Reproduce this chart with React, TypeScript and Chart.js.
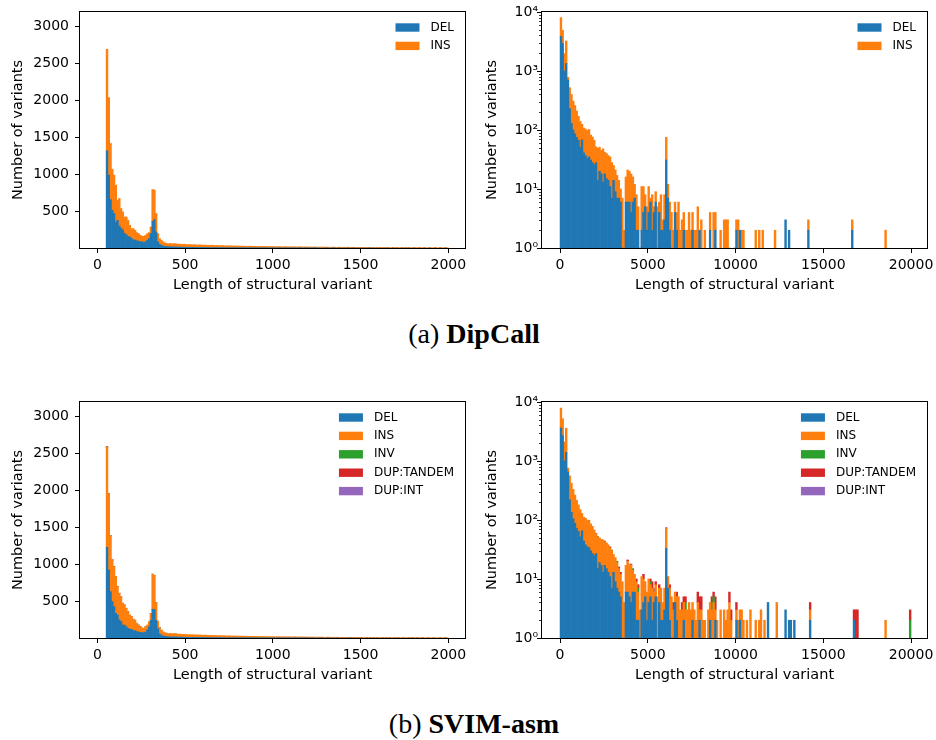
import React, { useEffect, useRef } from "react";
import { Chart, registerables } from "chart.js";

Chart.register(...registerables);
Chart.defaults.font.family = "DejaVu Sans";

// ---------- bins ----------
const linBinStart = 50; // first bin edge of the linear histograms
const linBinWidth = 10;
const logBinStart = 0;
const logBinWidth = 100;

// ---------- labels / ticks ----------
const xTitle = "Length of structural variant";
const yTitle = "Number of variants";
const linXTicks = [0, 500, 1000, 1500, 2000];
const logXTicks = [0, 5000, 10000, 15000, 20000];
const linYTicks = [500, 1000, 1500, 2000, 2500, 3000];
const logYTicks = [1, 10, 100, 1000, 10000];
const logYTickLabels = ["10⁰", "10¹", "10²", "10³", "10⁴"];
const typeLabels = ["DEL", "INS", "INV", "DUP:TANDEM", "DUP:INT"];
const typeColors = ["#1f77b4", "#ff7f0e", "#2ca02c", "#d62728", "#9467bd"];

// ---------- (a) DipCall, linear, bins of 10 from 50 ----------
const dipcallLinDel = [
  1318, 988, 657, 512, 467, 350, 376, 300, 270, 245,
  200, 180, 155, 150, 130, 110, 108, 98, 94, 84,
  84, 75, 84, 105, 127, 196, 362, 385, 217, 84,
  50, 36, 27, 22, 22, 18, 16, 15, 14, 15,
  12, 13, 11, 12, 10, 10, 9, 10, 8, 9,
  8, 7, 8, 7, 7, 6, 7, 6, 5, 6,
  5, 6, 5, 4, 5, 4, 5, 4, 4, 3,
  4, 4, 3, 4, 3, 3, 4, 3, 3, 2,
  3, 3, 2, 3, 2, 2, 3, 2, 2, 3,
  2, 2, 2, 1, 2, 2, 2, 1, 2, 2,
  1, 2, 1, 2, 1, 1, 2, 1, 1, 2,
  1, 1, 1, 2, 1, 1, 1, 1, 2, 1,
  1, 1, 0, 1, 1, 1, 1, 0, 1, 1,
  1, 0, 1, 1, 0, 1, 0, 1, 1, 0,
  1, 1, 0, 1, 0, 1, 0, 1, 0, 1,
  1, 0, 1, 0, 1, 0, 1, 0, 1, 0,
  1, 0, 0, 1, 0, 1, 0, 0, 1, 0,
  1, 0, 1, 0, 0, 1, 0, 0, 1, 0,
  0, 1, 0, 0, 1, 0, 0, 1, 0, 0,
  1, 0, 0, 1, 0,
];
const dipcallLinIns = [
  1377, 1050, 761, 557, 521, 502, 272, 371, 265, 245,
  221, 241, 221, 158, 133, 153, 133, 111, 102, 89,
  75, 84, 89, 91, 82, 89, 431, 401, 250, 112,
  77, 69, 57, 48, 39, 40, 46, 40, 43, 45,
  40, 41, 39, 37, 41, 37, 36, 38, 36, 33,
  38, 33, 33, 36, 32, 32, 33, 30, 32, 29,
  33, 28, 28, 31, 27, 27, 28, 26, 25, 28,
  24, 26, 24, 24, 23, 24, 21, 23, 21, 23,
  20, 21, 23, 19, 21, 20, 18, 21, 18, 18,
  20, 17, 18, 17, 17, 18, 16, 16, 17, 16,
  15, 15, 17, 13, 15, 15, 13, 16, 13, 13,
  15, 12, 13, 13, 12, 13, 12, 11, 12, 12,
  10, 11, 13, 10, 11, 10, 11, 10, 10, 11,
  9, 9, 10, 9, 9, 9, 9, 10, 7, 9,
  9, 7, 9, 7, 9, 7, 9, 6, 8, 8,
  6, 8, 6, 8, 5, 7, 7, 6, 6, 7,
  5, 8, 6, 6, 6, 5, 7, 5, 5, 7,
  4, 6, 5, 5, 6, 5, 5, 5, 4, 5,
  5, 5, 3, 5, 4, 4, 4, 5, 3, 3,
  5, 3, 4, 3, 3,
];

// ---------- (a) DipCall, log, bins of 100 from 0 ----------
const dipcallLogDel = [
  3870, 2910, 1000, 1340, 700, 230, 130, 100, 86, 75,
  67, 51, 68, 41, 37, 33, 35, 31, 28, 26,
  28, 14, 20, 18, 13, 18, 15, 14, 11, 7,
  14, 9, 7, 7, 6, 1, 0, 6, 6, 6,
  4, 6, 7, 2, 2, 1, 2, 4, 5, 2,
  4, 6, 2, 4, 6, 1, 4, 2, 2, 3,
  31, 7, 2, 1, 0, 4, 2, 0, 0, 0,
  2, 0, 0, 0, 0, 2, 0, 0, 0, 2,
  0, 0, 0, 0, 0, 2, 0, 0, 2, 0,
  0, 0, 0, 0, 0, 0, 0, 0, 0, 1,
  2, 0, 2, 0, 0, 0, 0, 0, 0, 0,
  0, 0, 0, 0, 0, 0, 0, 0, 0, 0,
  0, 0, 0, 0, 0, 0, 0, 0, 3, 0,
  2, 0, 0, 0, 0, 0, 0, 0, 0, 0,
  0, 2, 0, 0, 0, 0, 0, 0, 0, 0,
  0, 0, 0, 0, 0, 0, 0, 0, 0, 0,
  0, 0, 0, 0, 0, 0, 2, 0, 0, 0,
  0, 0, 0, 0, 0, 0, 0, 0, 0, 0,
  0, 0, 0, 0, 0, 0, 0, 0, 0, 0,
  0, 0, 0, 0, 0, 0, 0, 0, 0, 0,
];
const dipcallLogIns = [
  4170, 1990, 970, 1890, 80, 290, 270, 210, 174, 135,
  103, 89, 57, 67, 67, 65, 67, 51, 48, 41,
  24, 35, 31, 27, 35, 24, 25, 23, 24, 21,
  11, 12, 10, 7, 4, 6, 2, 10, 15, 14,
  14, 10, 5, 6, 3, 0, 9, 7, 3, 3,
  7, 1, 6, 1, 3, 4, 2, 6, 1, 5,
  44, 5, 4, 3, 2, 2, 2, 6, 2, 3,
  2, 2, 2, 4, 2, 2, 2, 2, 5, 0,
  3, 0, 2, 0, 0, 2, 0, 4, 2, 1,
  0, 2, 0, 3, 3, 3, 1, 0, 0, 0,
  1, 3, 0, 2, 2, 0, 0, 0, 0, 0,
  0, 2, 0, 2, 0, 2, 0, 0, 0, 0,
  0, 0, 2, 0, 0, 0, 0, 0, 0, 0,
  0, 0, 0, 0, 0, 0, 0, 0, 0, 0,
  0, 1, 0, 0, 0, 0, 0, 0, 0, 0,
  0, 0, 0, 0, 0, 0, 0, 0, 0, 0,
  0, 0, 0, 0, 0, 0, 1, 0, 0, 0,
  0, 0, 0, 0, 0, 0, 0, 0, 0, 0,
  0, 0, 0, 0, 0, 2, 0, 0, 0, 0,
  0, 0, 0, 0, 0, 0, 0, 0, 0, 0,
];

// ---------- (b) SVIM-asm, linear, bins of 10 from 50 ----------
const svimLinDel = [
  1230, 923, 629, 493, 425, 335, 312, 244, 222, 176,
  176, 154, 131, 118, 118, 100, 100, 86, 81, 77,
  72, 70, 80, 110, 150, 240, 390, 385, 240, 125,
  55, 38, 28, 23, 21, 17, 16, 14, 15, 13,
  13, 12, 12, 11, 10, 10, 9, 9, 8, 9,
  7, 8, 7, 7, 6, 7, 6, 6, 5, 6,
  5, 5, 5, 4, 5, 4, 4, 5, 3, 4,
  4, 3, 4, 3, 3, 3, 3, 3, 2, 3,
  3, 2, 3, 2, 2, 3, 2, 2, 2, 2,
  2, 1, 2, 2, 1, 2, 1, 2, 2, 1,
  1, 2, 1, 1, 2, 1, 1, 2, 1, 1,
  1, 1, 2, 1, 1, 1, 1, 1, 1, 0,
  1, 1, 1, 1, 0, 1, 1, 1, 0, 1,
  0, 1, 1, 0, 1, 0, 1, 0, 1, 1,
  0, 1, 0, 1, 0, 1, 0, 0, 1, 0,
  1, 0, 1, 0, 1, 0, 0, 1, 0, 1,
  0, 1, 0, 0, 1, 0, 1, 0, 0, 1,
  0, 0, 1, 0, 1, 0, 0, 1, 0, 0,
  1, 0, 0, 1, 0, 0, 1, 0, 0, 0,
  1, 0, 0, 1, 0,
];
const svimLinIns = [
  1357, 1031, 755, 565, 543, 497, 384, 362, 339, 294,
  272, 249, 226, 194, 172, 153, 144, 113, 95, 77,
  68, 60, 70, 66, 72, 90, 480, 465, 240, 105,
  80, 67, 58, 49, 42, 42, 44, 41, 45, 40,
  42, 39, 41, 38, 40, 38, 36, 37, 35, 36,
  34, 35, 33, 34, 32, 31, 33, 30, 31, 29,
  30, 28, 29, 27, 28, 27, 26, 27, 25, 26,
  24, 25, 24, 23, 24, 22, 23, 22, 21, 22,
  20, 21, 20, 21, 19, 19, 20, 18, 19, 18,
  17, 18, 17, 16, 17, 17, 16, 15, 16, 15,
  16, 14, 15, 14, 15, 14, 13, 14, 13, 14,
  12, 13, 12, 13, 12, 12, 11, 12, 11, 12,
  10, 11, 10, 11, 10, 10, 11, 9, 10, 9,
  10, 9, 9, 8, 9, 9, 8, 9, 8, 8,
  9, 7, 8, 7, 8, 8, 7, 7, 8, 6,
  7, 7, 6, 7, 6, 7, 6, 6, 5, 6,
  6, 5, 6, 5, 5, 6, 5, 5, 6, 4,
  5, 5, 4, 5, 5, 4, 5, 4, 4, 5,
  4, 4, 3, 4, 4, 4, 3, 4, 3, 3,
  4, 3, 4, 3, 3,
];
const svimLinInv = [
  2, 1, 1, 0, 1, 0, 1, 0, 0, 1,
  0, 1, 0, 0, 0, 1, 0, 0, 1, 0,
  0, 0, 1, 0, 0, 0, 0, 1, 0, 0,
  1, 0, 0, 0, 1, 0, 0, 0, 0, 1,
];
const svimLinDupTandem = [
  3, 2, 2, 1, 1, 2, 1, 1, 0, 1,
  1, 0, 1, 0, 1, 0, 0, 1, 0, 1,
  0, 0, 1, 0, 0, 1, 0, 0, 1, 0,
  2, 1, 0, 0, 1, 0, 1, 0, 0, 1,
];
const svimLinDupInt = [
  1, 0, 0, 1, 0, 0, 0, 0, 1, 0,
  0, 0, 0, 0, 0, 1, 0, 0, 0, 0,
];

// ---------- (b) SVIM-asm, log, bins of 100 from 0 ----------
const svimLogDel = [
  3630, 2700, 1000, 1400, 650, 220, 135, 105, 88, 72,
  64, 52, 66, 44, 38, 35, 34, 30, 27, 25,
  27, 15, 19, 17, 13, 17, 15, 13, 11, 7,
  13, 9, 7, 6, 5, 1, 0, 6, 6, 5,
  4, 6, 6, 2, 2, 1, 3, 4, 5, 2,
  4, 5, 2, 4, 5, 1, 4, 2, 2, 3,
  33, 7, 2, 1, 0, 4, 2, 0, 0, 0,
  2, 0, 0, 0, 0, 2, 0, 0, 0, 2,
  0, 0, 0, 0, 0, 2, 0, 0, 2, 0,
  0, 0, 0, 0, 0, 0, 0, 0, 0, 1,
  2, 0, 2, 0, 0, 0, 0, 0, 0, 0,
  0, 0, 0, 0, 0, 0, 0, 0, 4, 0,
  0, 0, 0, 0, 0, 0, 0, 0, 3, 0,
  2, 2, 0, 2, 0, 0, 0, 0, 0, 0,
  0, 0, 2, 0, 0, 0, 0, 0, 0, 0,
  0, 0, 0, 0, 0, 0, 0, 0, 0, 0,
  0, 0, 0, 0, 0, 0, 0, 2, 0, 0,
  0, 0, 0, 0, 0, 0, 0, 0, 0, 0,
  0, 0, 0, 0, 0, 0, 0, 0, 0, 0,
  0, 0, 0, 0, 0, 0, 0, 0, 0, 0,
];
const svimLogIns = [
  4270, 2500, 1100, 2200, 110, 340, 285, 225, 177, 143,
  116, 98, 64, 68, 68, 65, 64, 56, 51, 43,
  31, 37, 31, 30, 33, 26, 26, 25, 23, 23,
  13, 14, 12, 9, 7, 8, 4, 11, 14, 13,
  13, 8, 6, 7, 4, 2, 8, 6, 4, 4,
  6, 3, 5, 2, 3, 4, 3, 5, 2, 4,
  39, 4, 5, 4, 3, 2, 3, 5, 3, 3,
  2, 3, 3, 4, 3, 2, 3, 2, 4, 1,
  3, 2, 2, 0, 3, 2, 3, 4, 1, 2,
  0, 3, 0, 3, 2, 3, 4, 2, 0, 0,
  1, 2, 1, 3, 2, 0, 2, 0, 3, 0,
  0, 2, 0, 2, 3, 0, 2, 0, 0, 0,
  0, 0, 0, 4, 0, 0, 0, 0, 0, 0,
  0, 0, 0, 0, 0, 0, 0, 0, 0, 0,
  0, 0, 1, 0, 0, 0, 0, 0, 0, 0,
  0, 0, 0, 0, 0, 0, 0, 0, 0, 0,
  0, 0, 0, 0, 0, 0, 0, 0, 0, 0,
  0, 0, 0, 0, 0, 0, 0, 0, 0, 0,
  0, 0, 0, 0, 0, 2, 0, 0, 0, 0,
  0, 0, 0, 0, 0, 0, 0, 0, 0, 0,
];
// sparse types: bin index (of 100-wide bins) and count
const svimLogInvBins = [14, 16, 21, 29, 32, 41, 44, 51, 71, 86, 87, 199];
const svimLogInvCounts = [1, 1, 1, 1, 1, 1, 1, 1, 1, 1, 1, 2];
const svimLogDupTandemBins = [
  20, 25, 28, 33, 34, 38, 43, 44, 47, 51, 52, 54, 56, 60, 62, 64, 66, 69, 70, 71,
  78, 79, 80, 86, 87, 88, 96, 97, 100, 142, 167, 168, 169, 199,
];
const svimLogDupTandemCounts = [
  1, 1, 1, 1, 1, 1, 1, 1, 2, 1, 2, 1, 1, 2, 1, 1, 1, 1, 1, 1,
  2, 2, 2, 1, 1, 2, 2, 1, 1, 1, 1, 3, 3, 1,
];
const svimLogDupIntBins = [40, 53];
const svimLogDupIntCounts = [1, 1];

// ---------- helpers ----------
type Pt = { x: number; y: number | null };
function densePoints(values: number[], start: number, width: number): Pt[] {
  return values.map((v, i) => ({ x: start + width * (i + 0.5), y: v > 0 ? v : null }));
}
function sparsePoints(bins: number[], counts: number[], start: number, width: number): Pt[] {
  return bins.map((b, i) => ({ x: start + width * (b + 0.5), y: counts[i] > 0 ? counts[i] : null }));
}

type PanelSpec = {
  id: string;
  left: number;
  top: number;
  log: boolean;
  xMin: number;
  xMax: number;
  xTicks: number[];
  yAxisWidth: number;
  padRight: number;
  yTitlePad: number;
  series: Pt[][];
};

const PANELS: PanelSpec[] = [
  {
    id: "a-lin", left: 0, top: 0, log: false, xMin: -99, xMax: 2095, xTicks: linXTicks,
    yAxisWidth: 80, padRight: 3, yTitlePad: 9.7,
    series: [
      densePoints(dipcallLinDel, linBinStart, linBinWidth),
      densePoints(dipcallLinIns, linBinStart, linBinWidth),
    ],
  },
  {
    id: "a-log", left: 468, top: 0, log: true, xMin: -1030, xMax: 20910, xTicks: logXTicks,
    yAxisWidth: 74, padRight: 9, yTitlePad: 15.5,
    series: [
      densePoints(dipcallLogDel, logBinStart, logBinWidth),
      densePoints(dipcallLogIns, logBinStart, logBinWidth),
    ],
  },
  {
    id: "b-lin", left: 0, top: 390, log: false, xMin: -99, xMax: 2095, xTicks: linXTicks,
    yAxisWidth: 80, padRight: 3, yTitlePad: 9.7,
    series: [
      densePoints(svimLinDel, linBinStart, linBinWidth),
      densePoints(svimLinIns, linBinStart, linBinWidth),
      densePoints(svimLinInv, linBinStart, linBinWidth),
      densePoints(svimLinDupTandem, linBinStart, linBinWidth),
      densePoints(svimLinDupInt, linBinStart, linBinWidth),
    ],
  },
  {
    id: "b-log", left: 468, top: 390, log: true, xMin: -1030, xMax: 20910, xTicks: logXTicks,
    yAxisWidth: 74, padRight: 9, yTitlePad: 15.5,
    series: [
      densePoints(svimLogDel, logBinStart, logBinWidth),
      densePoints(svimLogIns, logBinStart, logBinWidth),
      sparsePoints(svimLogInvBins, svimLogInvCounts, logBinStart, logBinWidth),
      sparsePoints(svimLogDupTandemBins, svimLogDupTandemCounts, logBinStart, logBinWidth),
      sparsePoints(svimLogDupIntBins, svimLogDupIntCounts, logBinStart, logBinWidth),
    ],
  },
];

const FONT = "DejaVu Sans";
const CANVAS_W = 468;
const CANVAS_H = 300;

const framePlugin = {
  id: "frameAndLegend",
  afterDraw(chart: any) {
    const { ctx, chartArea: a } = chart;
    const y = chart.scales.y;
    ctx.save();
    // minor ticks on log axis
    if (y.type === "logarithmic") {
      ctx.strokeStyle = "#000";
      ctx.lineWidth = 0.8;
      for (let d = 1; d < 10000; d *= 10) {
        for (let m = 2; m <= 9; m++) {
          const py = Math.round(y.getPixelForValue(m * d)) + 0.5;
          ctx.beginPath();
          ctx.moveTo(a.left, py);
          ctx.lineTo(a.left - 3, py);
          ctx.stroke();
        }
      }
    }
    // axes frame
    ctx.strokeStyle = "#000";
    ctx.lineWidth = 1;
    ctx.strokeRect(a.left - 0.5, a.top - 0.5, a.right - a.left + 1, a.bottom - a.top + 1);
    // legend
    ctx.font = `12px "${FONT}"`;
    const ds = chart.data.datasets;
    const maxW = Math.max(...ds.map((d: any) => ctx.measureText(d.label).width));
    const textX = a.right - 11 - maxW;
    const boxX = textX - 11 - 24;
    ds.forEach((d: any, i: number) => {
      const cy = a.top + 15.5 + i * 18.4;
      ctx.fillStyle = d.backgroundColor;
      ctx.fillRect(boxX, cy - 4.2, 24, 8.4);
      ctx.fillStyle = "#000";
      ctx.textBaseline = "middle";
      ctx.textAlign = "left";
      ctx.fillText(d.label, textX, cy);
    });
    ctx.restore();
  },
};

function buildConfig(spec: PanelSpec): any {
  const yTicks = spec.log ? logYTicks : linYTicks;
  return {
    type: "bar",
    data: {
      datasets: spec.series.map((pts, i) => ({
        label: typeLabels[i],
        data: pts,
        backgroundColor: typeColors[i],
        borderWidth: 0,
        barPercentage: 1,
        categoryPercentage: 1,
        stack: "all",
      })),
    },
    options: {
      animation: false,
      responsive: false,
      devicePixelRatio: 1,
      events: [],
      layout: { padding: { top: 12, right: spec.padRight, bottom: 0, left: 0 } },
      plugins: { legend: { display: false }, tooltip: { enabled: false } },
      scales: {
        x: {
          type: "linear",
          min: spec.xMin,
          max: spec.xMax,
          bounds: "data",
          offset: false,
          stacked: true,
          grid: {
            display: true,
            drawOnChartArea: false,
            drawTicks: true,
            tickLength: 5,
            tickColor: "#000",
            tickWidth: 1,
            offset: false,
          },
          border: { display: false },
          ticks: {
            color: "#000",
            font: { family: FONT, size: 14 },
            padding: 4,
            maxRotation: 0,
            minRotation: 0,
            autoSkip: false,
            callback: (v: number) => String(v),
          },
          afterBuildTicks: (s: any) => {
            s.ticks = spec.xTicks.map((v) => ({ value: v }));
          },
          afterFit: (s: any) => {
            s.height = 52;
            s.paddingLeft = 0;
            s.paddingRight = 0;
          },
          title: {
            display: true,
            text: xTitle,
            color: "#000",
            font: { family: FONT, size: 14.5 },
            padding: { top: 0, bottom: 6.3 },
          },
        },
        y: {
          type: spec.log ? "logarithmic" : "linear",
          min: spec.log ? 1 : 0,
          max: spec.log ? 10000 : 3200,
          bounds: "data",
          stacked: true,
          grid: {
            display: true,
            drawOnChartArea: false,
            drawTicks: true,
            tickLength: 5,
            tickColor: "#000",
            tickWidth: 1,
          },
          border: { display: false },
          ticks: {
            color: "#000",
            font: { family: FONT, size: 14 },
            padding: spec.log ? -1 : 6,
            autoSkip: false,
            callback: (v: number, i: number) => (spec.log ? logYTickLabels[i] : String(v)),
          },
          afterBuildTicks: (s: any) => {
            s.ticks = yTicks.map((v) => ({ value: v }));
          },
          afterFit: (s: any) => {
            s.width = spec.yAxisWidth;
            s.paddingTop = 0;
            s.paddingBottom = 0;
          },
          title: {
            display: true,
            text: yTitle,
            color: "#000",
            font: { family: FONT, size: 14.5 },
            padding: { top: spec.yTitlePad, bottom: 0 },
          },
        },
      },
    },
    plugins: [framePlugin],
  };
}

function HistPanel({ spec }: { spec: PanelSpec }) {
  const ref = useRef<HTMLCanvasElement>(null);
  useEffect(() => {
    const chart = new Chart(ref.current as HTMLCanvasElement, buildConfig(spec));
    return () => chart.destroy();
  }, [spec]);
  return (
    <canvas
      ref={ref}
      width={CANVAS_W}
      height={CANVAS_H}
      style={{ position: "absolute", left: spec.left, top: spec.top, width: CANVAS_W, height: CANVAS_H, display: "block" }}
    />
  );
}

function captionStyle(top: number): React.CSSProperties {
  return {
    position: "absolute",
    left: 0,
    width: 948,
    top,
    textAlign: "center",
    fontFamily: '"Liberation Serif", serif',
    fontSize: 28,
    lineHeight: "28px",
    color: "#000",
    whiteSpace: "nowrap",
  };
}

export default function App() {
  useEffect(() => {
    document.body.style.margin = "0";
  }, []);
  return (
    <div style={{ position: "fixed", left: 0, top: 0, width: 936, height: 740, background: "#fff", overflow: "hidden" }}>
      {PANELS.map((p) => (
        <HistPanel key={p.id} spec={p} />
      ))}
      <div style={captionStyle(319.6)}>
        (a) <b>DipCall</b>
      </div>
      <div style={captionStyle(709.6)}>
        (b) <b>SVIM-asm</b>
      </div>
    </div>
  );
}
